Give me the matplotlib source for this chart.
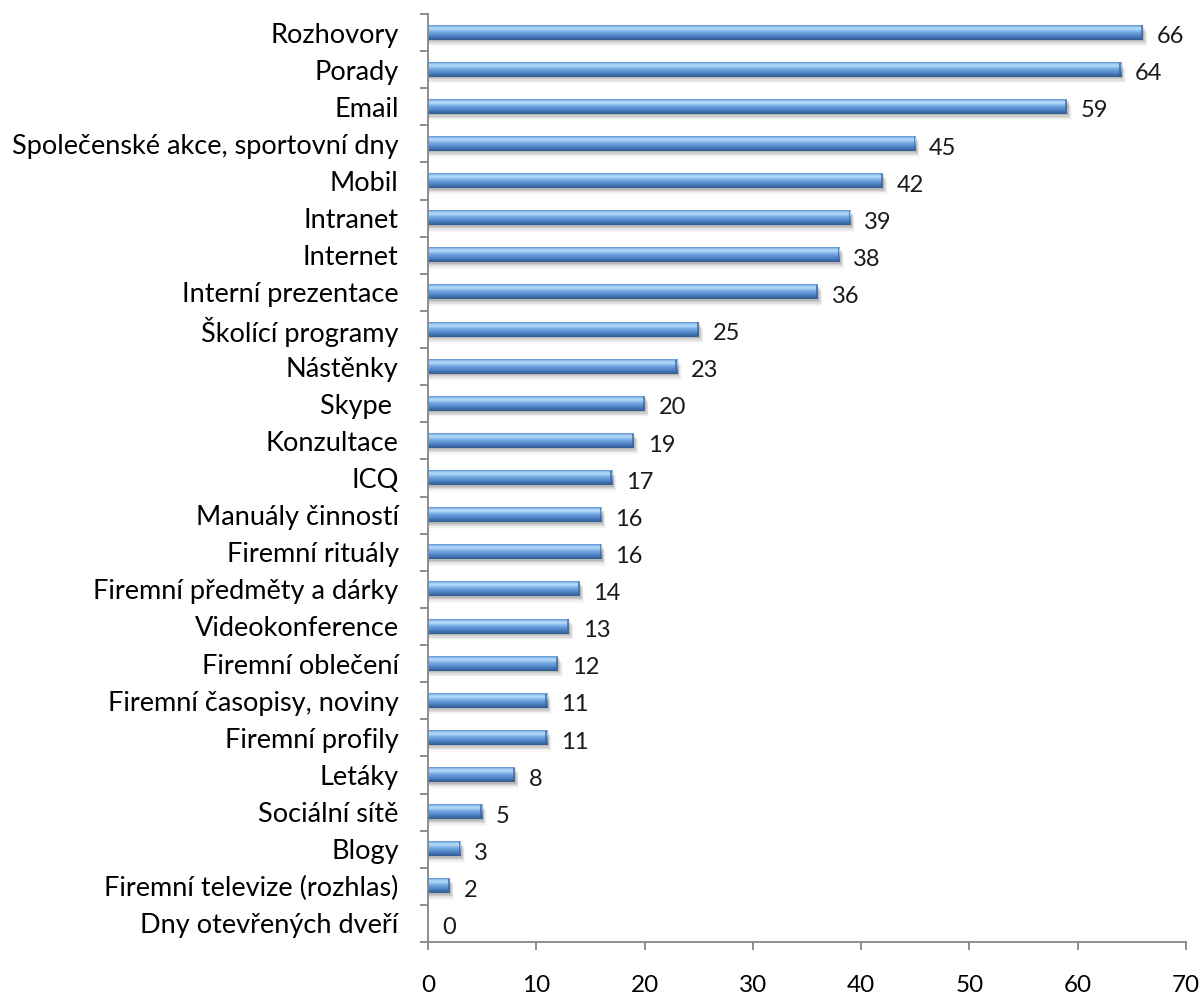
import matplotlib
matplotlib.use('Agg')
import matplotlib.pyplot as plt
import numpy as np
from matplotlib.colors import LinearSegmentedColormap
from matplotlib.patches import Rectangle

# categories top -> bottom, with counts
categories = [
    "Rozhovory", "Porady", "Email", "Společenské akce, sportovní dny", "Mobil",
    "Intranet", "Internet", "Interní prezentace", "Školící programy", "Nástěnky",
    "Skype ", "Konzultace", "ICQ", "Manuály činností", "Firemní rituály",
    "Firemní předměty a dárky", "Videokonference", "Firemní oblečení",
    "Firemní časopisy, noviny", "Firemní profily", "Letáky", "Sociální sítě",
    "Blogy", "Firemní televize (rozhlas)", "Dny otevřených dveří",
]
values = [66, 64, 59, 45, 42, 39, 38, 36, 25, 23, 20, 19, 17, 16, 16,
          14, 13, 12, 11, 11, 8, 5, 3, 2, 0]
xticks = [0, 10, 20, 30, 40, 50, 60, 70]

plt.rcParams['font.family'] = ['Lato', 'DejaVu Sans']

fig = plt.figure(figsize=(12.02, 9.96), dpi=100)
ax = fig.add_axes([0.356, 0.0542, 0.6307, 0.9318])

n = len(categories)
ypos = np.arange(n)[::-1]  # top category at highest y
bar_h = 0.38

# cylinder-like vertical gradient (top -> bottom)
cmap = LinearSegmentedColormap.from_list("cyl", [
    (0.0, "#5f90d0"), (0.12, "#9ccaf2"), (0.26, "#b6dbfa"),
    (0.42, "#7cb1e8"), (0.7, "#5187cc"), (1.0, "#325a92")])
grad = np.linspace(0, 1, 64).reshape(-1, 1)

for y, v in zip(ypos, values):
    if v <= 0:
        continue
    # soft shadow under the bar
    for k, a in enumerate([0.2, 0.15, 0.11, 0.07, 0.04]):
        off = 0.04 + 0.035 * k
        ax.add_patch(Rectangle((0, y - bar_h / 2 - off), v + 0.15 + 0.07 * k, bar_h,
                               facecolor="#6a6a6a", edgecolor="none", alpha=a, zorder=1))
    ax.imshow(grad, cmap=cmap, aspect='auto', interpolation='bilinear',
              extent=(0, v, y - bar_h / 2, y + bar_h / 2), zorder=2)
    # darker cap at bar end
    ax.add_patch(Rectangle((v - 0.15, y - bar_h / 2), 0.15, bar_h,
                           facecolor="#3a639b", edgecolor="none", alpha=0.7, zorder=3))
    ax.annotate(str(v), (v, y), xytext=(10, -3), textcoords='offset points',
                ha='left', va='center', fontsize=17, color='#1a1a1a')

# zero value label
for y, v in zip(ypos, values):
    if v <= 0:
        ax.annotate(str(v), (v, y), xytext=(10, -3), textcoords='offset points',
                    ha='left', va='center', fontsize=17, color='#1a1a1a')

ax.set_xlim(0, 70)
ax.set_ylim(-0.5, n - 0.5)
ax.set_xticks(xticks)
ax.set_xticklabels([str(t) for t in xticks], fontsize=17.5)

ax.set_yticks(ypos)
ax.set_yticklabels(categories, fontsize=19.5)
ax.set_yticks(np.arange(n + 1) - 0.5, minor=True)
ax.tick_params(axis='y', which='major', length=0, pad=21)
ax.tick_params(axis='y', which='minor', length=6, color='#868686', width=1.3)
ax.tick_params(axis='x', length=6, color='#868686', width=1.3, pad=18)

for s in ['top', 'right']:
    ax.spines[s].set_visible(False)
for s in ['left', 'bottom']:
    ax.spines[s].set_color('#868686')
    ax.spines[s].set_linewidth(1.3)

fig.savefig("out.png", dpi=100, facecolor='white')
